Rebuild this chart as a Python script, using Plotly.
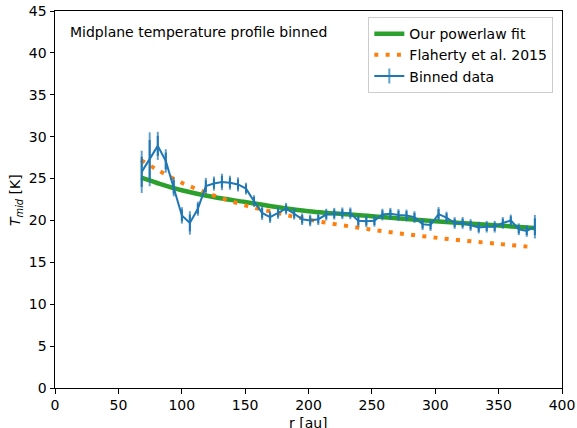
import plotly.graph_objects as go

# Binned data
r_bin = [68.4, 74.7, 81.1, 87.4, 93.7, 100.1, 106.4, 112.7, 119.0, 125.4,
         131.7, 138.0, 144.4, 150.7, 157.0, 163.4, 169.7, 176.0, 182.3, 188.7,
         195.0, 201.3, 207.7, 214.0, 220.3, 226.7, 233.0, 239.3, 245.6, 252.0,
         258.3, 264.6, 271.0, 277.3, 283.6, 290.0, 296.3, 302.6, 308.9, 315.3,
         321.6, 327.9, 334.3, 340.6, 346.9, 353.3, 359.6, 365.9, 372.2, 378.6]
T_bin = [25.8, 27.3, 28.9, 27.1, 24.0, 20.6, 19.7, 21.4, 24.1, 24.4,
         24.6, 24.5, 24.3, 23.8, 22.3, 20.9, 20.4, 20.9, 21.4, 20.8,
         20.15, 20.0, 20.15, 20.7, 20.8, 20.85, 20.85, 19.95, 19.9, 19.95,
         20.7, 20.8, 20.65, 20.6, 20.4, 19.55, 19.45, 20.75, 20.35, 19.7,
         19.7, 19.45, 19.15, 19.25, 19.25, 19.7, 20.0, 18.95, 18.75, 19.25]
T_err = [1.8, 2.3, 1.2, 1.0, 0.8, 0.7, 1.0, 0.6, 0.7, 0.6,
         0.7, 0.6, 0.6, 0.5, 0.5, 0.6, 0.5, 0.5, 0.5, 0.5,
         0.5, 0.5, 0.5, 0.5, 0.5, 0.5, 0.5, 0.5, 0.5, 0.5,
         0.5, 0.5, 0.5, 0.5, 0.5, 0.5, 0.5, 0.6, 0.5, 0.5,
         0.5, 0.5, 0.5, 0.5, 0.5, 0.5, 0.5, 0.5, 0.5, 1.0]

# Curves
r_fit = [68, 80, 100, 125, 150, 175, 200, 250, 300, 350, 378]
T_powerlaw = [25.1, 24.5, 23.6, 22.8, 22.2, 21.6, 21.1, 20.5, 19.9, 19.4, 19.1]
T_flaherty = [27.2, 26.1, 24.5, 23.0, 21.8, 20.9, 20.1, 18.9, 17.95, 17.2, 16.8]

x_ticks = [0, 50, 100, 150, 200, 250, 300, 350, 400]
y_ticks = [0, 5, 10, 15, 20, 25, 30, 35, 40, 45]

FONT = "DejaVu Sans"
FS = 14

W, H = 577, 428
ML, MR, MT, MB = 55, 15, 11, 40
plot_h = H - MT - MB
px_per_K = plot_h / 45.0

# vertical tick markers matching the error-bar heights (gives the '+' legend glyph)
marker_sizes = [2 * e * px_per_K for e in T_err]

fig = go.Figure()
fig.add_trace(go.Scatter(x=r_fit, y=T_powerlaw, mode="lines", name="Our powerlaw fit",
                         line=dict(color="#2ca02c", width=4.5, shape="spline")))
fig.add_trace(go.Scatter(x=r_fit, y=T_flaherty, mode="lines", name="Flaherty et al. 2015",
                         line=dict(color="#ff7f0e", width=4, dash="4px,7.3px", shape="spline")))
fig.add_trace(go.Scatter(x=r_bin, y=T_bin, mode="lines+markers", name="Binned data",
                         line=dict(color="#1f77b4", width=2),
                         marker=dict(symbol="line-ns-open", size=marker_sizes, color="#1f77b4",
                                     line=dict(width=2, color="#1f77b4")),
                         error_y=dict(type="data", array=T_err, visible=True,
                                      thickness=2, width=0, color="#1f77b4")))

axis_common = dict(showgrid=False, zeroline=False, showline=True, linecolor="black",
                   linewidth=1, mirror=True, ticks="outside", ticklen=4.5,
                   tickwidth=1, tickcolor="black", automargin=False,
                   tickfont=dict(family=FONT, size=FS, color="black"))

fig.update_layout(
    width=W, height=H,
    margin=dict(l=ML, r=MR, t=MT, b=MB, autoexpand=False),
    paper_bgcolor="white", plot_bgcolor="white",
    font=dict(family=FONT, size=FS, color="black"),
    xaxis=dict(range=[0, 400], tickvals=x_ticks, **axis_common),
    yaxis=dict(range=[0, 45], tickvals=y_ticks, **axis_common),
    legend=dict(x=0.618, y=0.984, xanchor="left", yanchor="top",
                bgcolor="rgba(255,255,255,0.8)", bordercolor="#cccccc", borderwidth=1,
                font=dict(family=FONT, size=FS, color="black"),
                tracegroupgap=0),
    showlegend=True,
    annotations=[
        dict(text="Midplane temperature profile binned", xref="paper", yref="paper",
             x=0.0256, y=0.944, xanchor="left", yanchor="middle", showarrow=False,
             font=dict(family=FONT, size=FS)),
        dict(text="r [au]", xref="paper", yref="paper", x=0.5, y=-0.066,
             xanchor="center", yanchor="top", showarrow=False,
             font=dict(family=FONT, size=FS)),
        dict(text="<i>T</i><sub><i>mid</i></sub> [K]", xref="paper", yref="paper",
             x=-0.078, y=0.5, xanchor="center", yanchor="middle", textangle=-90,
             showarrow=False, font=dict(family=FONT, size=FS)),
    ],
)

fig.write_html("out.html")
